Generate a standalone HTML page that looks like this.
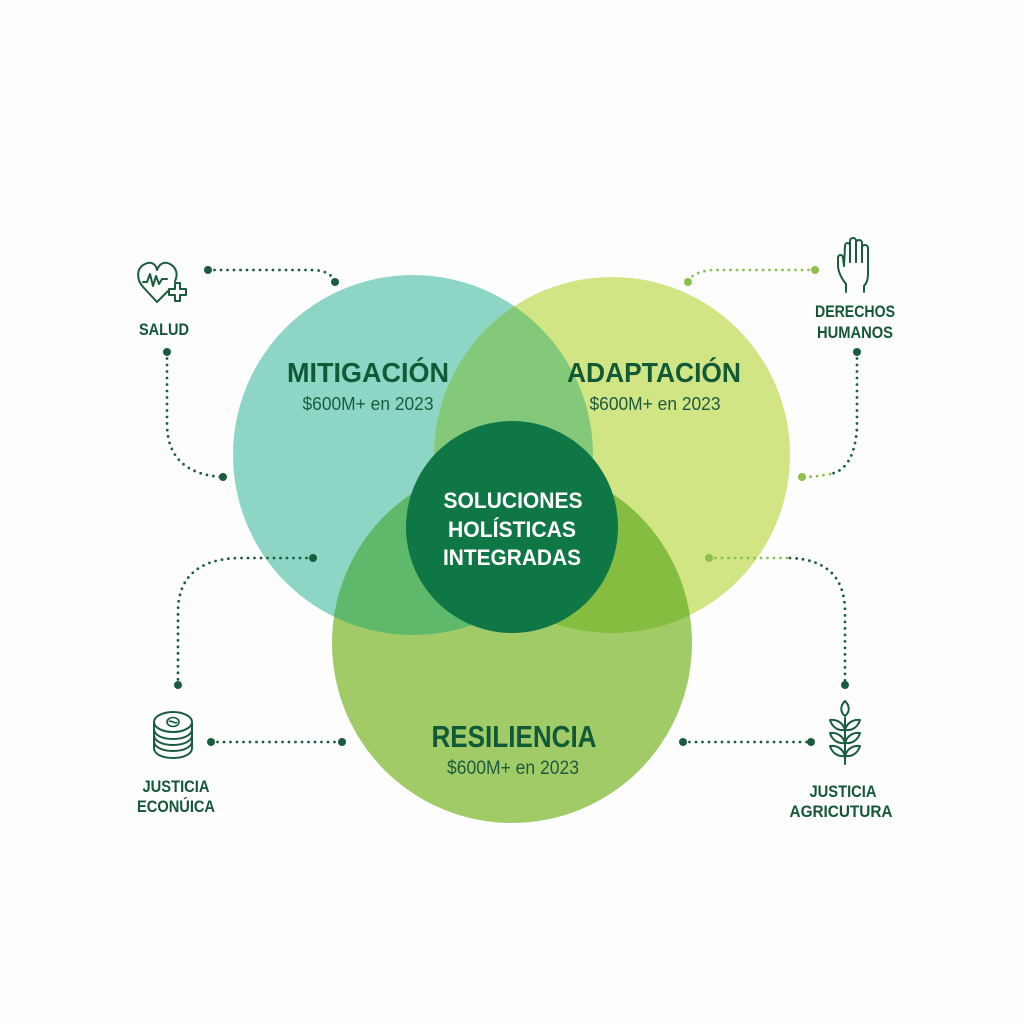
<!DOCTYPE html>
<html>
<head>
<meta charset="utf-8">
<style>
  html, body { margin: 0; padding: 0; background: #fdfdfd; }
  svg { display: block; }
  .t { font-family: "Liberation Sans", sans-serif; font-weight: bold; fill: #105a37; }
  .s { font-family: "Liberation Sans", sans-serif; fill: #1e5b3e; }
  .w { font-family: "Liberation Sans", sans-serif; font-weight: bold; fill: #ffffff; }
  .lbl { font-family: "Liberation Sans", sans-serif; font-weight: bold; fill: #135737; }
</style>
</head>
<body>
<svg width="1024" height="1024" viewBox="0 0 1024 1024" xmlns="http://www.w3.org/2000/svg">
  <defs>
    <clipPath id="cm"><circle cx="413" cy="455" r="180"/></clipPath>
    <clipPath id="ca"><circle cx="612" cy="455" r="178"/></clipPath>
  </defs>
  <rect width="1024" height="1024" fill="#fdfdfd"/>

  <!-- main circles -->
  <circle cx="413" cy="455" r="180" fill="#8dd6c6"/>
  <circle cx="612" cy="455" r="178" fill="#d1e585"/>
  <circle cx="512" cy="643" r="180" fill="#a0cb66"/>
  <!-- overlaps -->
  <g clip-path="url(#cm)">
    <circle cx="612" cy="455" r="178" fill="#84c97a"/>
    <circle cx="512" cy="643" r="180" fill="#5fb96b"/>
  </g>
  <g clip-path="url(#ca)">
    <circle cx="512" cy="643" r="180" fill="#84bd3f"/>
  </g>
  <!-- center -->
  <circle cx="512" cy="527" r="106" fill="#0f7745"/>

  <!-- circle texts -->
  <text class="t" x="368" y="382" font-size="28" text-anchor="middle" textLength="162" lengthAdjust="spacingAndGlyphs">MITIGACIÓN</text>
  <text class="s" x="368" y="410" font-size="18" text-anchor="middle" textLength="131" lengthAdjust="spacingAndGlyphs">$600M+ en 2023</text>
  <text class="t" x="654" y="382" font-size="28" text-anchor="middle" textLength="174" lengthAdjust="spacingAndGlyphs">ADAPTACIÓN</text>
  <text class="s" x="655" y="410" font-size="18" text-anchor="middle" textLength="131" lengthAdjust="spacingAndGlyphs">$600M+ en 2023</text>
  <text class="t" x="514" y="747" font-size="31" text-anchor="middle" textLength="165" lengthAdjust="spacingAndGlyphs">RESILIENCIA</text>
  <text class="s" x="513" y="774" font-size="19" text-anchor="middle" textLength="132" lengthAdjust="spacingAndGlyphs">$600M+ en 2023</text>

  <text class="w" x="513" y="508" font-size="22" text-anchor="middle" textLength="139" lengthAdjust="spacingAndGlyphs">SOLUCIONES</text>
  <text class="w" x="512" y="537" font-size="22" text-anchor="middle" textLength="128" lengthAdjust="spacingAndGlyphs">HOLÍSTICAS</text>
  <text class="w" x="512" y="565" font-size="22" text-anchor="middle" textLength="138" lengthAdjust="spacingAndGlyphs">INTEGRADAS</text>

  <!-- connectors -->
  <g fill="none" stroke-linecap="round" stroke-width="2.8" stroke-dasharray="0 6.5">
    <path d="M208,270 L314,270 Q331,271 335,282" stroke="#1c5e40"/>
    <path d="M167,352 L167,425 Q168,474 223,477" stroke="#1c5e40"/>
    <path d="M815,270 L712,270 Q692,272 688,282" stroke="#8cc04c"/>
    <path d="M857,352 L857,428 Q854,470 830,474" stroke="#1c5e40"/>
    <path d="M830,474 Q815,477 802,477" stroke="#8cc04c"/>
    <path d="M313,558 L238,558 Q178,560 178,612 L178,685" stroke="#1c5e40"/>
    <path d="M211,742 L342,742" stroke="#1c5e40"/>
    <path d="M709,558 L790,558" stroke="#8cc04c"/>
    <path d="M790,558 Q845,560 845,612 L845,685" stroke="#1c5e40"/>
    <path d="M683,742 L811,742" stroke="#1c5e40"/>
  </g>
  <g fill="#1a5c3e">
    <circle cx="208" cy="270" r="4"/>
    <circle cx="335" cy="282" r="4"/>
    <circle cx="167" cy="352" r="4"/>
    <circle cx="223" cy="477" r="4"/>
    <circle cx="857" cy="352" r="4"/>
    <circle cx="313" cy="558" r="4"/>
    <circle cx="178" cy="685" r="4"/>
    <circle cx="211" cy="742" r="4"/>
    <circle cx="342" cy="742" r="4"/>
    <circle cx="845" cy="685" r="4"/>
    <circle cx="683" cy="742" r="4"/>
    <circle cx="811" cy="742" r="4"/>
  </g>
  <g fill="#8cc04c">
    <circle cx="815" cy="270" r="4"/>
    <circle cx="688" cy="282" r="4"/>
    <circle cx="802" cy="477" r="4"/>
    <circle cx="709" cy="558" r="4"/>
  </g>

  <!-- SALUD icon: heart with pulse and plus -->
  <g fill="none" stroke="#1a5c3e" stroke-width="2" stroke-linejoin="round" stroke-linecap="round">
    <path d="M168,291 L157,302 L144,288 C136,280 136,268 145,264 C151,261 156,264 157,270 C159,264 164,261 170,264 C177,268 178,275 175,281"/>
    <path d="M143,282 L147,282 L150,274 L153,286 L156,276 L159,284 L162,279 L167,279"/>
    <path d="M175,283 L180,283 L180,289 L186,289 L186,295 L180,295 L180,301 L175,301 L175,295 L169,295 L169,289 L175,289 Z"/>
  </g>
  <text class="lbl" x="164" y="335" font-size="17" text-anchor="middle" textLength="50" lengthAdjust="spacingAndGlyphs">SALUD</text>

  <!-- DERECHOS HUMANOS icon: hand -->
  <g fill="none" stroke="#1a5c3e" stroke-width="2" stroke-linejoin="round" stroke-linecap="round">
    <path d="M846,292 L846,284 C842,279 838,272 838,265 L838,258 C838,254 843,254 843,258 L844,266"/>
    <path d="M844,266 L845,246 C845,242 850,242 850,246 L850,262"/>
    <path d="M850,262 L850,241 C850,237 856,237 856,241 L856,262"/>
    <path d="M856,262 L856,243 C856,239 862,239 862,243 L862,262"/>
    <path d="M862,262 L862,248 C862,244 868,244 868,248 L868,274 C868,280 866,284 864,286 L864,292"/>
  </g>
  <text class="lbl" x="855" y="317" font-size="17" text-anchor="middle" textLength="80" lengthAdjust="spacingAndGlyphs">DERECHOS</text>
  <text class="lbl" x="855" y="338" font-size="17" text-anchor="middle" textLength="76" lengthAdjust="spacingAndGlyphs">HUMANOS</text>

  <!-- JUSTICIA ECONÓMICA icon: coins -->
  <g fill="none" stroke="#1a5c3e" stroke-width="2" stroke-linejoin="round">
    <ellipse cx="173" cy="722" rx="19" ry="10"/>
    <path d="M154,722 L154,748 C154,754 162,758 173,758 C184,758 192,754 192,748 L192,722"/>
    <path d="M154,729 C154,735 162,739 173,739 C184,739 192,735 192,729"/>
    <path d="M154,735 C154,741 162,745 173,745 C184,745 192,741 192,735"/>
    <path d="M154,741 C154,747 162,751 173,751 C184,751 192,747 192,741"/>
    <ellipse cx="173" cy="722" rx="6" ry="4.5" stroke-width="1.6"/>
    <path d="M169,722 C171,719 175,725 177,722" stroke-width="1.6"/>
  </g>
  <text class="lbl" x="176" y="792" font-size="17" text-anchor="middle" textLength="67" lengthAdjust="spacingAndGlyphs">JUSTICIA</text>
  <text class="lbl" x="176" y="812" font-size="17" text-anchor="middle" textLength="78" lengthAdjust="spacingAndGlyphs">ECONÚICA</text>

  <!-- JUSTICIA AGRICULTURA icon: wheat -->
  <g fill="none" stroke="#1a5c3e" stroke-width="2" stroke-linejoin="round" stroke-linecap="round">
    <path d="M845,718 L845,764"/>
    <path d="M845,716 C840,712 840,706 845,701 C850,706 850,712 845,716 Z"/>
    <path d="M845,730 C838,731 832,727 830,720 C837,719 843,723 845,730 Z"/>
    <path d="M845,730 C852,731 858,727 860,720 C853,719 847,723 845,730 Z"/>
    <path d="M845,743 C838,744 832,740 830,733 C837,732 843,736 845,743 Z"/>
    <path d="M845,743 C852,744 858,740 860,733 C853,732 847,736 845,743 Z"/>
    <path d="M845,756 C838,757 832,753 830,746 C837,745 843,749 845,756 Z"/>
    <path d="M845,756 C852,757 858,753 860,746 C853,745 847,749 845,756 Z"/>
  </g>
  <text class="lbl" x="843" y="797" font-size="17" text-anchor="middle" textLength="67" lengthAdjust="spacingAndGlyphs">JUSTICIA</text>
  <text class="lbl" x="841" y="817" font-size="17" text-anchor="middle" textLength="103" lengthAdjust="spacingAndGlyphs">AGRICUTURA</text>
</svg>
</body>
</html>
